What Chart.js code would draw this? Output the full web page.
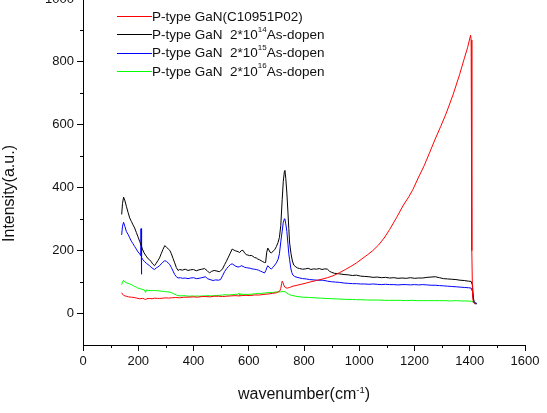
<!DOCTYPE html>
<html>
<head>
<meta charset="utf-8">
<script src="https://cdn.jsdelivr.net/npm/chart.js@4/dist/chart.umd.min.js"></script>
<style>
  html, body { margin: 0; padding: 0; background: #fff; }
  #wrap { position: relative; width: 547px; height: 413px; overflow: hidden; }
  #c { position: absolute; left: 0; top: -12px; }
</style>
</head>
<body>
<div id="wrap"><canvas id="c" width="547" height="425"></canvas></div>
<script>
// Raman spectra of P-type GaN samples — four traces.

const seriesNames = [
  ["P-type GaN(C10951P02)"],
  ["P-type GaN  2*10", "14", "As-dopen"],
  ["P-type GaN  2*10", "15", "As-dopen"],
  ["P-type GaN  2*10", "16", "As-dopen"],
];
const seriesColors = ["#ff0000", "#000000", "#0000ff", "#00ff00"];

const redX = [140, 143, 147, 152, 157, 165, 175, 185, 195, 205, 215, 222, 226, 230, 240, 250, 260, 270, 277, 290,
  300, 310, 320, 335, 350, 365, 380, 399, 415, 430, 445, 460, 475, 490, 505, 519, 535, 550, 565, 575,
  590, 605, 620, 639, 655, 670, 685, 700, 712, 716, 719, 721, 724, 728, 733, 740, 748, 760, 775, 790,
  808, 825, 845, 868, 885, 905, 929, 950, 970, 990, 1010, 1030, 1049, 1070, 1090, 1110, 1135, 1160, 1180, 1194,
  1215, 1235, 1254, 1275, 1295, 1315, 1340, 1363, 1380, 1392, 1403, 1405, 1407, 1408, 1410, 1413, 1418, 1422];
const redY = [66, 62, 58, 56, 55, 53, 52, 51, 49, 47, 48, 47, 43, 47, 48, 47, 49, 48, 48, 49,
  50, 49, 50, 51, 50, 52, 52, 53, 52, 54, 54, 53, 55, 55, 54, 55, 56, 57, 56, 57,
  58, 57, 59, 59, 61, 62, 64, 66, 71, 80, 95, 103, 98, 88, 82, 81, 83, 87, 90, 93,
  97, 101, 105, 110, 114, 120, 130, 140, 150, 161, 174, 187, 200, 218, 240, 267, 305, 345, 372, 394,
  434, 470, 510, 555, 595, 637, 697, 759, 810, 845, 885, 870, 500, 200, 60, 35, 32, 30];

const blackX = [140, 143, 147, 152, 157, 163, 169, 175, 181, 187, 193, 199, 205, 210, 215, 221, 226, 231, 236, 241,
  246, 252, 259, 265, 271, 277, 283, 289, 296, 302, 308, 314, 320, 326, 332, 338, 344, 350, 360, 370,
  380, 390, 400, 410, 420, 430, 440, 450, 458, 465, 475, 485, 495, 505, 513, 519, 525, 532, 540, 546,
  553, 561, 567, 573, 579, 585, 591, 597, 603, 609, 615, 621, 627, 633, 639, 645, 651, 657, 661, 665,
  669, 673, 677, 682, 688, 694, 700, 706, 711, 716, 721, 725, 729, 731, 734, 738, 742, 745, 748, 753,
  758, 763, 768, 776, 784, 795, 805, 815, 825, 835, 845, 855, 865, 875, 885, 893, 900, 910, 920, 930,
  945, 960, 975, 990, 1005, 1020, 1035, 1050, 1065, 1080, 1095, 1110, 1125, 1140, 1155, 1170, 1185, 1200, 1215, 1230,
  1245, 1260, 1275, 1290, 1305, 1320, 1335, 1350, 1365, 1380, 1395, 1405, 1410, 1413, 1416, 1420, 1424];
const blackY = [315, 350, 370, 358, 341, 322, 304, 293, 282, 272, 258, 244, 230, 218, 205, 193, 186, 180, 174, 171,
  166, 158, 152, 160, 168, 177, 190, 203, 216, 211, 206, 201, 190, 175, 161, 146, 137, 140, 138, 141,
  137, 139, 140, 136, 139, 141, 143, 136, 129, 134, 137, 135, 133, 142, 156, 166, 177, 190, 205, 202,
  199, 197, 194, 200, 201, 193, 187, 186, 184, 185, 182, 178, 177, 173, 171, 168, 165, 162, 162, 195,
  208, 202, 195, 193, 198, 203, 213, 226, 242, 280, 362, 420, 452, 455, 430, 383, 320, 270, 224, 190,
  167, 154, 150, 145, 143, 141, 142, 144, 140, 142, 141, 143, 140, 142, 141, 134, 131, 128, 127, 126,
  124, 123, 121, 122, 119, 118, 117, 115, 116, 114, 115, 113, 114, 112, 113, 112, 114, 112, 113, 113,
  115, 116, 117, 114, 111, 110, 109, 108, 106, 105, 103, 102, 90, 50, 38, 34, 33];

const blueX = [140, 143, 147, 152, 157, 163, 169, 175, 181, 187, 193, 199, 205, 209, 210, 211, 213, 217, 223, 229,
  235, 241, 247, 253, 259, 265, 271, 277, 283, 289, 296, 302, 308, 314, 320, 326, 332, 338, 344, 352,
  360, 370, 380, 390, 400, 410, 420, 430, 444, 450, 460, 471, 480, 490, 498, 505, 513, 520, 527, 534,
  540, 547, 554, 561, 567, 573, 579, 585, 591, 597, 605, 612, 620, 627, 635, 642, 650, 657, 662, 666,
  669, 673, 677, 682, 688, 694, 700, 706, 711, 716, 721, 725, 729, 731, 734, 738, 742, 745, 748, 752,
  756, 760, 766, 775, 785, 795, 808, 820, 835, 850, 868, 885, 900, 915, 929, 945, 960, 975, 990, 1005,
  1020, 1035, 1049, 1065, 1080, 1095, 1110, 1125, 1140, 1155, 1170, 1185, 1200, 1215, 1230, 1245, 1260, 1275, 1290, 1305,
  1320, 1335, 1351, 1365, 1380, 1395, 1405, 1410, 1413, 1416, 1420, 1426];
const blueY = [250, 278, 290, 276, 261, 252, 241, 230, 222, 213, 205, 196, 190, 184, 270, 125, 178, 171, 165, 160,
  156, 152, 147, 143, 140, 145, 148, 152, 158, 163, 168, 166, 161, 156, 146, 135, 124, 117, 113, 114,
  112, 113, 111, 113, 114, 111, 112, 114, 117, 111, 108, 105, 107, 106, 108, 120, 134, 143, 150, 156,
  158, 154, 150, 148, 149, 152, 150, 147, 146, 145, 144, 142, 141, 140, 138, 135, 132, 129, 137, 147,
  152, 148, 144, 142, 147, 154, 161, 172, 190, 228, 262, 290, 301, 300, 285, 261, 220, 190, 171, 145,
  130, 122, 118, 115, 113, 111, 110, 108, 107, 106, 106, 103, 101, 100, 99, 97, 96, 95, 95, 94,
  94, 93, 94, 93, 92, 93, 92, 92, 91, 92, 92, 91, 92, 91, 92, 91, 90, 90, 89, 88,
  87, 86, 85, 84, 83, 82, 81, 70, 45, 35, 32, 31];

const greenX = [140, 143, 147, 151, 157, 163, 169, 175, 181, 187, 193, 199, 205, 211, 217, 222, 226, 228, 235, 245,
  255, 265, 275, 285, 295, 305, 314, 322, 330, 338, 344, 355, 365, 375, 385, 395, 405, 415, 422, 432,
  442, 452, 462, 472, 483, 495, 505, 515, 525, 535, 543, 552, 560, 565, 568, 572, 580, 590, 603, 615,
  625, 635, 645, 655, 664, 675, 685, 695, 705, 715, 724, 732, 738, 744, 750, 760, 770, 784, 800, 820,
  840, 860, 880, 905, 930, 950, 975, 990, 1010, 1030, 1050, 1070, 1090, 1110, 1130, 1150, 1170, 1190, 1210, 1230,
  1250, 1270, 1290, 1310, 1330, 1351, 1370, 1390, 1405, 1412, 1418, 1424];
const greenY = [92, 100, 106, 101, 98, 96, 94, 92, 89, 86, 84, 81, 79, 78, 76, 75, 68, 75, 74, 73,
  73, 73, 72, 71, 70, 69, 68, 66, 62, 59, 57, 56, 57, 56, 55, 56, 55, 56, 55, 56,
  56, 57, 56, 57, 57, 58, 59, 60, 59, 60, 60, 61, 61, 64, 57, 62, 61, 61, 61, 62,
  63, 64, 64, 65, 66, 67, 67, 68, 69, 69, 70, 69, 65, 62, 59, 57, 55, 53, 52, 51,
  50, 49, 48, 47, 46, 45, 45, 44, 44, 43, 43, 43, 42, 42, 42, 42, 41, 42, 41, 41,
  41, 41, 41, 41, 40, 41, 40, 40, 39, 37, 31, 32];

const xMin = 0, xMax = 1600, yMin = -100, yMax = 1000, tickStep = 100, labelStep = 200;

const FONT = "'Liberation Sans', Arial, sans-serif";
const INK = "#111";
const CANVAS_OFFSET = 12; // canvas sits 12px above the page so the 1000 label is clipped like the original

function pairs(xs, ys) {
  return xs.map((x, i) => ({ x, y: ys[i] }));
}

const seriesData = [pairs(redX, redY), pairs(blackX, blackY), pairs(blueX, blueY), pairs(greenX, greenY)];

// text with an optional superscript in the middle: [before, sup, after]
function drawSupText(ctx, parts, x, y, size, supSize, rise, align) {
  const [a, s = "", b = ""] = parts;
  ctx.font = `${size}px ${FONT}`;
  const wa = ctx.measureText(a).width;
  const wb = ctx.measureText(b).width;
  ctx.font = `${supSize}px ${FONT}`;
  const ws = ctx.measureText(s).width;
  let left = x;
  if (align === "center") left = x - (wa + ws + wb) / 2;
  ctx.textAlign = "left";
  ctx.textBaseline = "alphabetic";
  ctx.font = `${size}px ${FONT}`;
  ctx.fillText(a, left, y);
  ctx.font = `${supSize}px ${FONT}`;
  ctx.fillText(s, left + wa, y - rise);
  ctx.font = `${size}px ${FONT}`;
  ctx.fillText(b, left + wa + ws, y);
}

const decorations = {
  id: "decorations",
  afterDraw(chart) {
    const ctx = chart.ctx;
    const off = CANVAS_OFFSET;
    ctx.save();

    // minor ticks (odd hundreds), shorter than the major ones
    ctx.strokeStyle = "#000";
    ctx.lineWidth = 1;
    const xs = chart.scales.x, ys = chart.scales.y;
    ctx.beginPath();
    for (let v = xMin + tickStep; v < xMax; v += labelStep) {
      const px = Math.round(xs.getPixelForValue(v)) + 0.5;
      ctx.moveTo(px, xs.top);
      ctx.lineTo(px, xs.top + 3);
    }
    for (let v = yMin + 2 * tickStep; v < yMax; v += labelStep) {
      const py = Math.round(ys.getPixelForValue(v)) + 0.5;
      ctx.moveTo(ys.right, py);
      ctx.lineTo(ys.right - 3, py);
    }
    ctx.stroke();

    // legend
    seriesNames.forEach((parts, i) => {
      const ly = 16 + i * 18.3 + off;
      ctx.strokeStyle = seriesColors[i];
      ctx.beginPath();
      ctx.moveTo(117, Math.round(ly) + 0.5);
      ctx.lineTo(152, Math.round(ly) + 0.5);
      ctx.stroke();
      ctx.fillStyle = INK;
      drawSupText(ctx, parts, 152, ly + 4.8, 13.5, 8, 7.5, "left");
    });

    // axis titles
    ctx.fillStyle = INK;
    const cx = (chart.chartArea.left + chart.chartArea.right) / 2;
    drawSupText(ctx, ["wavenumber(cm", "-1", ")"], cx, 399 + off, 16, 9.5, 6.5, "center");

    ctx.translate(13.5, 193.5 + off);
    ctx.rotate(-Math.PI / 2);
    ctx.font = `16px ${FONT}`;
    ctx.textAlign = "center";
    ctx.textBaseline = "alphabetic";
    ctx.fillText("Intensity(a.u.)", 0, 0);
    ctx.restore();
  },
};

function axis(min, max, fitKey, fitSize) {
  return {
    type: "linear",
    min, max,
    grid: {
      display: true,
      drawOnChartArea: false,
      drawTicks: true,
      tickLength: 6,
      tickColor: (ctx) => (ctx.tick && ctx.tick.value % labelStep === 0 ? "#000" : "rgba(0,0,0,0)"),
    },
    border: { display: true, color: "#000", width: 1 },
    ticks: {
      stepSize: tickStep,
      autoSkip: false,
      maxRotation: 0,
      padding: 3,
      color: INK,
      font: { family: FONT, size: 13 },
      callback: (v) => (v % labelStep === 0 ? String(v) : ""),
    },
    afterFit: (scale) => { scale[fitKey] = fitSize; },
  };
}

new Chart(document.getElementById("c"), {
  type: "line",
  data: {
    datasets: seriesData.map((d, i) => ({
      data: d,
      borderColor: seriesColors[i],
      borderWidth: 1,
      pointRadius: 0,
      tension: 0,
      fill: false,
    })),
  },
  options: {
    responsive: false,
    devicePixelRatio: 1,
    animation: false,
    layout: { padding: { top: 11, right: 22, left: 0, bottom: 0 } },
    scales: {
      x: axis(xMin, xMax, "height", 68),
      y: axis(yMin, yMax, "width", 83),
    },
    plugins: {
      legend: { display: false },
      tooltip: { enabled: false },
    },
  },
  plugins: [decorations],
});
</script>
</body>
</html>
